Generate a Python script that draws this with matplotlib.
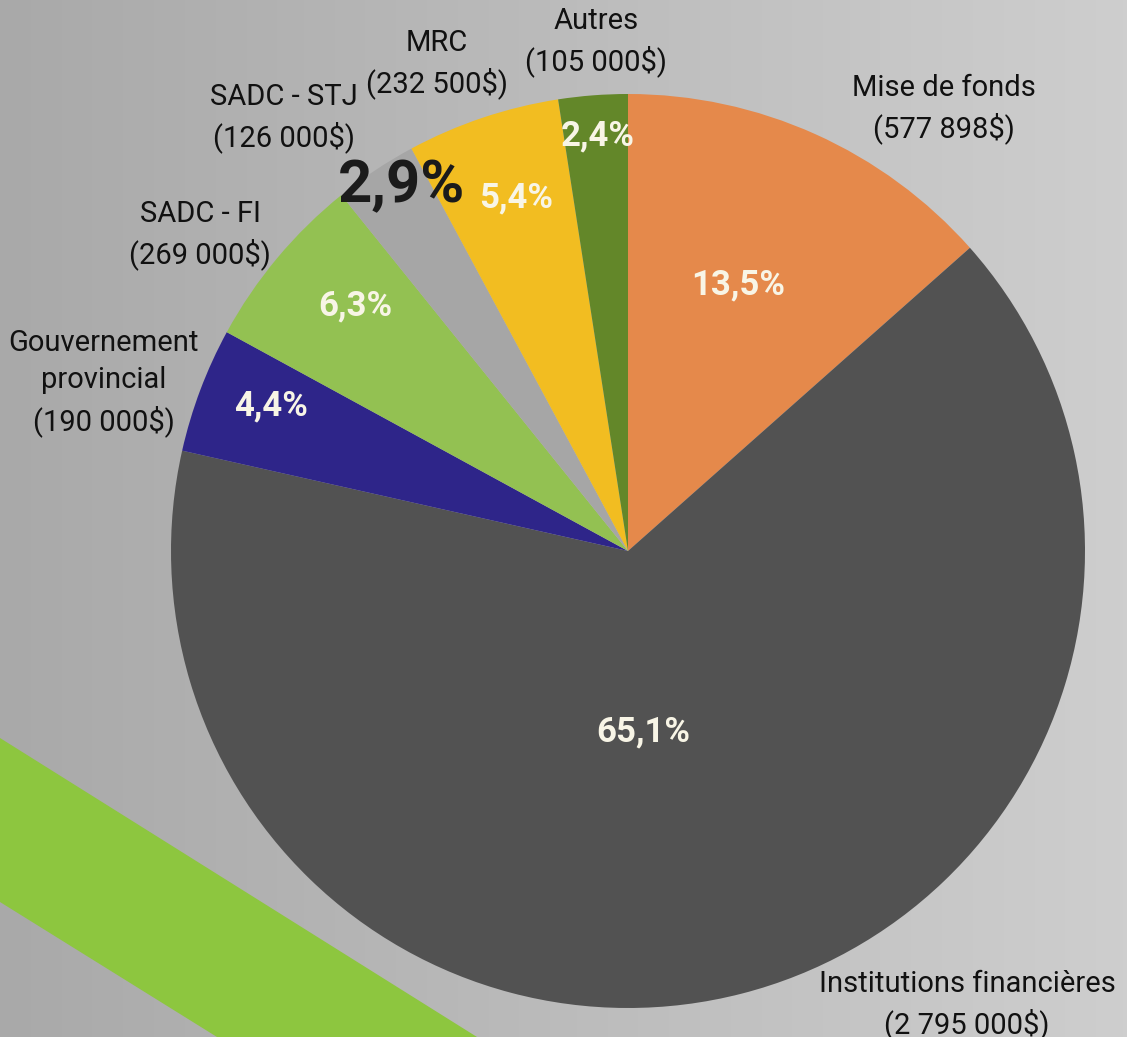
import numpy as np
import matplotlib.pyplot as plt
from matplotlib.colors import LinearSegmentedColormap
from matplotlib.patches import Polygon

plt.rcParams['font.family'] = ['Roboto', 'DejaVu Sans']

# --- data ---
categories = ['Mise de fonds', 'Institutions financières', 'Gouvernement\nprovincial',
              'SADC - FI', 'SADC - STJ', 'MRC', 'Autres']
amounts = [577898, 2795000, 190000, 269000, 126000, 232500, 105000]
colors = ['#e5894b', '#525252', '#2e2589', '#93c152', '#a6a6a6', '#f2bd21', '#638729']

# label placement (image pixels, y from top)
name_pos = [(944, 109), (967, 1005), (104, 383), (200, 235), (284, 118), (437, 64), (596, 42)]
pct_pos = [(738, 285), (643, 732), (271, 406), (355, 306), (402, 186), (516, 198), (598, 136)]

W, H = 1127, 1037
fig = plt.figure(figsize=(W / 100, H / 100), dpi=100)
ax = fig.add_axes([0, 0, 1, 1])

# background gradient, darker on the left
grad = np.linspace(0, 1, 256).reshape(1, -1)
bg = LinearSegmentedColormap.from_list('bg', ['#a9a9a9', '#cecece'])
ax.imshow(grad, extent=[0, W, 0, H], cmap=bg, aspect='auto', zorder=0)

# green diagonal band
band = Polygon([(0, H - 738), (477, 0), (217, 0), (0, H - 902)], closed=True,
               facecolor='#8dc63f', edgecolor='none', zorder=1)
ax.add_patch(band)

ax.pie(amounts, colors=colors, startangle=90, counterclock=False,
       center=(628, H - 551), radius=457, frame=True,
       wedgeprops=dict(linewidth=0, zorder=2))
ax.set_xlim(0, W)
ax.set_ylim(0, H)
ax.set_aspect('auto')
ax.axis('off')

total = sum(amounts)
for i, (cat, amt) in enumerate(zip(categories, amounts)):
    money = f"{amt:,}".replace(',', ' ') + '$'
    nx, ny = name_pos[i]
    ax.text(nx, H - ny, f"{cat}\n({money})", ha='center', va='center',
            fontsize=21, color='#111111', linespacing=1.42, zorder=3)
    pct = f"{amt / total * 100:.1f}".replace('.', ',') + '%'
    px, py = pct_pos[i]
    if cat == 'SADC - STJ':
        ax.text(px, H - py, pct, ha='center', va='center', fontsize=43,
                fontweight='bold', color='#1b1b1b', zorder=3)
    else:
        ax.text(px, H - py, pct, ha='center', va='center', fontsize=25,
                fontweight='bold', color='#f8f5e6', zorder=3)

plt.savefig('out.png', dpi=100)
